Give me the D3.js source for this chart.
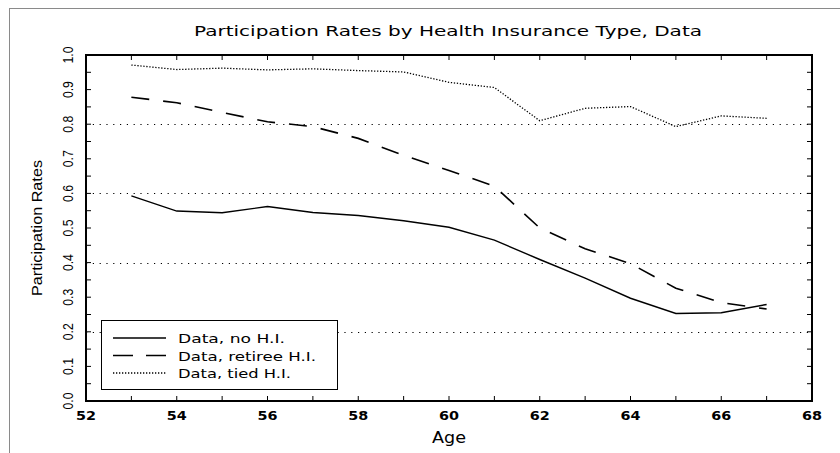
<!DOCTYPE html>
<html>
<head>
<meta charset="utf-8">
<script src="https://cdn.jsdelivr.net/npm/d3@7"></script>
<style>
  body { margin: 0; background: #fff; }
  svg text { fill: #000; }
</style>
</head>
<body>
<svg id="chart" width="840" height="453"></svg>
<script>
// ages on the x axis
const ages = [53, 54, 55, 56, 57, 58, 59, 60, 61, 62, 63, 64, 65, 66, 67];
// participation rates
const noHI      = [0.593, 0.549, 0.544, 0.562, 0.545, 0.536, 0.521, 0.502, 0.465, 0.409, 0.355, 0.297, 0.253, 0.255, 0.279];
const retireeHI = [0.878, 0.862, 0.834, 0.807, 0.793, 0.759, 0.710, 0.666, 0.621, 0.500, 0.440, 0.397, 0.326, 0.284, 0.266];
const tiedHI    = [0.971, 0.958, 0.962, 0.957, 0.960, 0.955, 0.951, 0.921, 0.906, 0.810, 0.846, 0.851, 0.793, 0.824, 0.817];
const xTicks = [52, 54, 56, 58, 60, 62, 64, 66, 68];
const yTicks = [0.0, 0.1, 0.2, 0.3, 0.4, 0.5, 0.6, 0.7, 0.8, 0.9, 1.0];
const gridVals = [0.2, 0.4, 0.6, 0.8];
const seriesNames = ["Data, no H.I.", "Data, retiree H.I.", "Data, tied H.I."];

const svg = d3.select("#chart");
const pL = 86, pR = 812, pT = 55, pB = 401;

const x = d3.scaleLinear().domain([52, 68]).range([pL, pR]);
const y = d3.scaleLinear().domain([0, 1]).range([pB, pT]);

// outer frame (only left/top show in the picture)
svg.append("rect").attr("x", 9.5).attr("y", 8.5).attr("width", 840).attr("height", 460)
  .attr("fill", "none").attr("stroke", "#8a8a8a").attr("stroke-width", 1);

// title
svg.append("text").attr("x", 448).attr("y", 36).attr("text-anchor", "middle")
  .attr("font-family", "DejaVu Sans").attr("font-size", 14).attr("font-weight", 500)
  .attr("textLength", 508).attr("lengthAdjust", "spacingAndGlyphs")
  .text("Participation Rates by Health Insurance Type, Data");

// dotted grid lines
svg.selectAll(".grid").data(gridVals).enter().append("line")
  .attr("x1", pL).attr("x2", pR)
  .attr("y1", d => Math.round(y(d)) + 0.5).attr("y2", d => Math.round(y(d)) + 0.5)
  .attr("stroke", "#000").attr("stroke-width", 1).attr("stroke-dasharray", "1.2,5.6");

// ticks all around, pointing inward
const minorX = d3.range(52, 69, 1);
const minorY = d3.range(0, 1.0001, 0.05);
const tickG = svg.append("g").attr("stroke", "#000").attr("stroke-width", 1);
tickG.selectAll(".tb").data(minorX).enter().append("line")
  .attr("x1", d => x(d)).attr("x2", d => x(d)).attr("y1", pB).attr("y2", pB - 5);
tickG.selectAll(".tt").data(minorX).enter().append("line")
  .attr("x1", d => x(d)).attr("x2", d => x(d)).attr("y1", pT).attr("y2", pT + 5);
tickG.selectAll(".tl").data(minorY).enter().append("line")
  .attr("y1", d => y(d)).attr("y2", d => y(d)).attr("x1", pL).attr("x2", pL + 5);
tickG.selectAll(".tr").data(minorY).enter().append("line")
  .attr("y1", d => y(d)).attr("y2", d => y(d)).attr("x1", pR).attr("x2", pR - 5);

// plot frame
svg.append("rect").attr("x", pL).attr("y", pT).attr("width", pR - pL).attr("height", pB - pT)
  .attr("fill", "none").attr("stroke", "#000").attr("stroke-width", 2);

// x tick labels
svg.selectAll(".xl").data(xTicks).enter().append("text")
  .attr("x", d => x(d)).attr("y", 420).attr("text-anchor", "middle")
  .attr("font-family", "DejaVu Sans").attr("font-size", 12).attr("font-weight", "bold")
  .attr("textLength", 20).attr("lengthAdjust", "spacingAndGlyphs")
  .text(d => d);

// y tick labels (rotated)
svg.selectAll(".yl").data(yTicks).enter().append("text")
  .attr("transform", d => `translate(73,${y(d)}) rotate(-90)`)
  .attr("text-anchor", "middle")
  .attr("font-family", "Liberation Sans Narrow, Liberation Sans").attr("font-size", 14)
  .attr("textLength", 17).attr("lengthAdjust", "spacingAndGlyphs")
  .text(d => d.toFixed(1));

// axis titles
svg.append("text").attr("transform", `translate(42,${(pT + pB) / 2}) rotate(-90)`)
  .attr("text-anchor", "middle")
  .attr("font-family", "Liberation Sans Narrow, Liberation Sans").attr("font-size", 15)
  .attr("textLength", 136).attr("lengthAdjust", "spacingAndGlyphs")
  .text("Participation Rates");
svg.append("text").attr("x", 449).attr("y", 443).attr("text-anchor", "middle")
  .attr("font-family", "DejaVu Sans").attr("font-size", 15).attr("font-weight", 500)
  .attr("textLength", 34).attr("lengthAdjust", "spacingAndGlyphs")
  .text("Age");

// series
const styles = [
  { data: noHI, dash: null, width: 1.4 },
  { data: retireeHI, dash: "18,14", width: 1.6 },
  { data: tiedHI, dash: "1.3,1.7", width: 1.3 }
];
const line = d3.line().x((d, i) => x(ages[i])).y(d => y(d));
styles.forEach(s => {
  svg.append("path").datum(s.data).attr("d", line)
    .attr("fill", "none").attr("stroke", "#000").attr("stroke-width", s.width)
    .attr("stroke-dasharray", s.dash);
});

// legend
const lg = svg.append("g");
lg.append("rect").attr("x", 101.5).attr("y", 320.5).attr("width", 236).attr("height", 69)
  .attr("fill", "#fff").attr("stroke", "#000").attr("stroke-width", 1);
const legendDash = [null, "20,13", "1.3,1.7"];
const textLen = [107, 138, 113];
seriesNames.forEach((name, i) => {
  const ly = 338 + i * 17.5;
  lg.append("line").attr("x1", 113).attr("x2", 166).attr("y1", ly).attr("y2", ly)
    .attr("stroke", "#000").attr("stroke-width", styles[i].width).attr("stroke-dasharray", legendDash[i]);
  lg.append("text").attr("x", 178).attr("y", ly + 5)
    .attr("font-family", "DejaVu Sans").attr("font-size", 13).attr("font-weight", 500)
    .attr("textLength", textLen[i]).attr("lengthAdjust", "spacingAndGlyphs")
    .text(name);
});
</script>
</body>
</html>
